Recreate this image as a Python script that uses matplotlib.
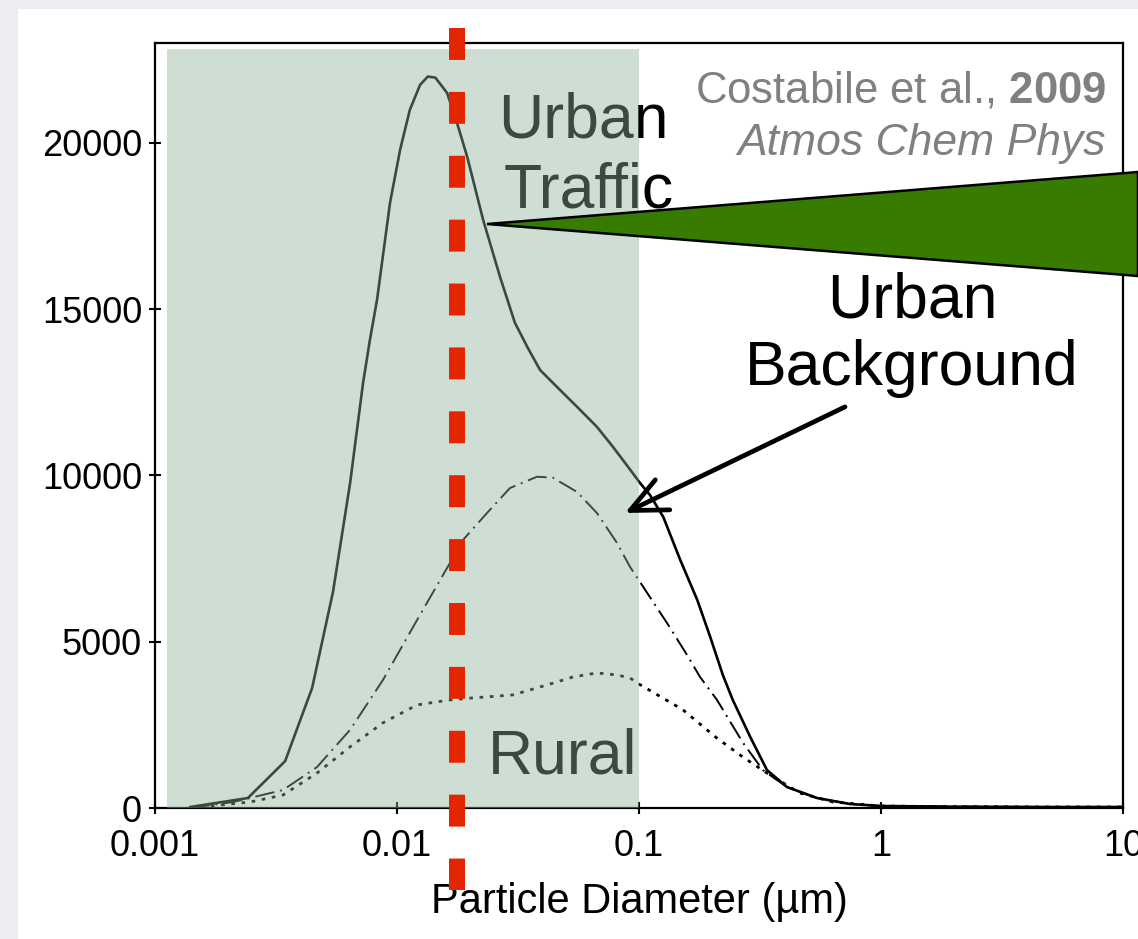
import matplotlib
matplotlib.use('Agg')
import matplotlib.pyplot as plt
from matplotlib.patches import Rectangle, Polygon
from matplotlib.ticker import NullLocator

plt.rcParams['font.family'] = ['Liberation Sans', 'DejaVu Sans']
plt.rcParams['mathtext.fontset'] = 'custom'
plt.rcParams['mathtext.rm'] = 'Liberation Sans'
plt.rcParams['mathtext.bf'] = 'Liberation Sans:bold'

# particle size distributions (diameter in um, number concentration)
traffic_d = [0.0014, 0.00242, 0.00345, 0.00446, 0.00544, 0.0064, 0.00724, 0.00773, 0.00827,
             0.00936, 0.0103, 0.0113, 0.01245, 0.0134, 0.0144, 0.0161, 0.0177, 0.0195,
             0.0227, 0.0267, 0.0307, 0.0345, 0.039, 0.0458, 0.0555, 0.067, 0.078,
             0.092, 0.101, 0.111, 0.126, 0.148, 0.174, 0.197, 0.222, 0.244, 0.288, 0.338,
             0.409, 0.544, 0.745, 1.0, 2.0, 5.0, 10.0]
traffic_n = [30, 300, 1410, 3610, 6500, 9770, 12780, 14080, 15280,
             18200, 19790, 20990, 21740, 21990, 21960, 21500, 20600, 19580,
             17680, 15950, 14590, 13870, 13170, 12660, 12060, 11460, 10860,
             10170, 9770, 9410, 8750, 7460, 6260, 5140, 4000, 3250, 2140, 1140,
             630, 300, 120, 60, 40, 30, 30]

backgr_d = [0.0014, 0.0021, 0.00338, 0.00467, 0.0064, 0.00875, 0.0121, 0.01656, 0.01874,
            0.02355, 0.0293, 0.0379, 0.0441, 0.0555, 0.067, 0.0811, 0.0918, 0.1306,
            0.158, 0.1787, 0.210, 0.269, 0.325, 0.409, 0.544, 0.745, 1.0, 2.0, 5.0, 10.0]
backgr_n = [0, 180, 540, 1230, 2350, 3850, 5650, 7370, 8060,
            8870, 9620, 9960, 9930, 9500, 8870, 7970, 7250, 5560,
            4600, 3940, 3250, 1960, 1140, 630, 300, 120, 60, 40, 30, 30]

rural_d = [0.0014, 0.00247, 0.00338, 0.00467, 0.0064, 0.00875, 0.0121, 0.01656, 0.0206,
           0.0301, 0.0417, 0.0534, 0.067, 0.0811, 0.0918, 0.0982, 0.152, 0.210, 0.269,
           0.338, 0.462, 0.634, 1.0, 2.0, 5.0, 10.0]
rural_n = [0, 180, 390, 1050, 1840, 2560, 3100, 3250, 3310,
           3400, 3700, 3940, 4060, 4000, 3910, 3760, 2950, 2100, 1530,
           1050, 450, 180, 60, 40, 30, 30]

xticks = [0.001, 0.01, 0.1, 1, 10]
xtick_labels = ['0.001', '0.01', '0.1', '1', '10']
yticks = [0, 5000, 10000, 15000, 20000]

# ultrafine shading and cut-off line
shade_lo, shade_hi, shade_top = 0.00112, 0.1, 22830
cutoff_d = 0.0177

W, H = 1138, 939
fig = plt.figure(figsize=(W / 100, H / 100), dpi=100)
fig.patch.set_facecolor('#ECEDF1')
fig.add_artist(Rectangle((18 / W, 0), 1, 1 - 9 / H, transform=fig.transFigure,
                         facecolor='white', edgecolor='none', zorder=-5))

ax = fig.add_axes([155 / W, 1 - 808 / H, (1123 - 155) / W, (808 - 43) / H])
ax.set_xscale('log')
ax.set_xlim(0.001, 10)
ax.set_ylim(0, 23000)

ax.plot(traffic_d, traffic_n, color='black', lw=1.9, zorder=2)
ax.plot(backgr_d, backgr_n, color='black', lw=1.4, ls=(0, (10, 3, 1, 3)), zorder=2)
ax.plot(rural_d, rural_n, color='black', lw=2.0, ls=(0, (1.3, 2.4)), zorder=2)

ax.set_xticks(xticks)
ax.set_xticklabels(xtick_labels)
ax.xaxis.set_minor_locator(NullLocator())
ax.set_yticks(yticks)
ax.tick_params(direction='inout', length=8.6, width=1.5, labelsize=26, pad=5)
ax.tick_params(axis='x', pad=11)
for s in ax.spines.values():
    s.set_linewidth(1.6)

ax.set_xlabel('Particle Diameter (µm)', fontsize=30)
ax.xaxis.label.set_va('baseline')
ax.xaxis.set_label_coords(0.5, -(913 - 808) / 765)

def ftext(px, py, s, **kw):
    ax.text(px / W, 1 - py / H, s, transform=fig.transFigure, va='baseline', zorder=3, **kw)

ftext(498, 138, 'Urban', fontsize=45, color='black')
ftext(504, 208, 'Traffic', fontsize=45, color='black')
ftext(488, 773, 'Rural', fontsize=45, color='black')
ftext(912, 318, 'Urban', fontsize=45, color='black', ha='center')
ftext(912, 385, 'Background', fontsize=45, color='black', ha='center')
ftext(1106, 102, 'Costabile et al., $\\mathbf{2009}$', fontsize=31.5, color='#808080', ha='right')
ftext(1106, 155, 'Atmos Chem Phys', fontsize=32, color='#808080', ha='right', style='italic')

# translucent green over the ultrafine range
ax.fill_between([shade_lo, shade_hi], 0, shade_top, color='#8EB295', alpha=0.42, lw=0, zorder=5)

# big green pointer
tri = Polygon([(487 / W, 1 - 224 / H), (1.0, 1 - 172 / H), (1.0, 1 - 276 / H)], closed=True,
              transform=fig.transFigure, facecolor='#377B00', edgecolor='black', lw=1.8,
              clip_on=False, zorder=7)
ax.add_patch(tri)

# arrow to the urban background curve
ax.annotate('', xy=(0.0875, 8870), xytext=(0.71, 12060),
            arrowprops=dict(arrowstyle='->, head_length=1.3, head_width=0.6', lw=3.4,
                            color='black', mutation_scale=20, shrinkA=0, shrinkB=0),
            zorder=7, annotation_clip=False)

ax.plot([cutoff_d, cutoff_d], [23458, -2466], color='#E32600', lw=11.5,
        dashes=(2, 2), solid_capstyle='butt', dash_capstyle='butt', clip_on=False, zorder=8)

fig.savefig('out.png', dpi=100, facecolor=fig.get_facecolor())
